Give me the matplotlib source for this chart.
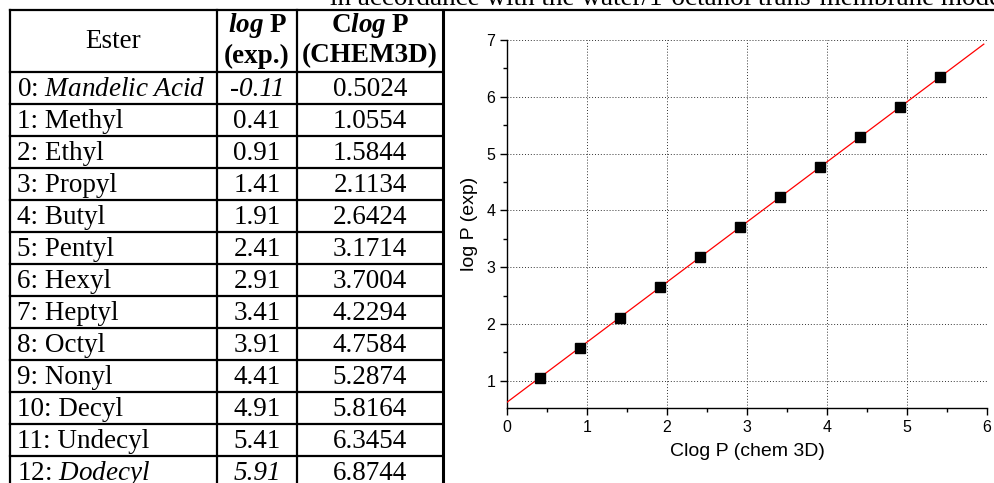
import matplotlib
matplotlib.use("Agg")
import matplotlib.pyplot as plt
from matplotlib.lines import Line2D
from matplotlib.ticker import MultipleLocator
import numpy as np

plt.rcParams['font.family'] = ['Liberation Serif', 'DejaVu Serif']
plt.rcParams['mathtext.fontset'] = 'custom'
plt.rcParams['mathtext.rm'] = 'Liberation Serif'
plt.rcParams['mathtext.it'] = 'Liberation Serif:italic'
plt.rcParams['mathtext.bf'] = 'Liberation Serif:bold'
plt.rcParams['mathtext.bfit'] = 'Liberation Serif:italic:bold'

# table data
esters = [r'0: $\mathit{Mandelic\ Acid}$', '1: Methyl', '2: Ethyl', '3: Propyl',
          '4: Butyl', '5: Pentyl', '6: Hexyl', '7: Heptyl', '8: Octyl',
          '9: Nonyl', '10: Decyl', '11: Undecyl', r'12: $\mathit{Dodecyl}$']
logp_exp = [-0.11, 0.41, 0.91, 1.41, 1.91, 2.41, 2.91, 3.41, 3.91, 4.41, 4.91, 5.41, 5.91]
clogp = [0.5024, 1.0554, 1.5844, 2.1134, 2.6424, 3.1714, 3.7004, 4.2294, 4.7584,
         5.2874, 5.8164, 6.3454, 6.8744]
italic_rows = [0, 12]

W, H = 994, 483
fig = plt.figure(figsize=(W / 100, H / 100), dpi=100)


def fx(x):
    return x / W


def fy(y):
    return 1 - y / H


def hline(y, x0, x1, lw=1.6):
    fig.add_artist(Line2D([fx(x0), fx(x1)], [fy(y), fy(y)], transform=fig.transFigure,
                          color='black', lw=lw, solid_capstyle='projecting'))


def vline(x, y0, y1, lw=1.6):
    fig.add_artist(Line2D([fx(x), fx(x)], [fy(y0), fy(y1)], transform=fig.transFigure,
                          color='black', lw=lw, solid_capstyle='projecting'))


# page text cut at the top
fig.text(fx(330), fy(5), 'in accordance with the water/1-octanol trans-membrane model',
         fontsize=19.5, ha='left', va='baseline')

# table grid
top, head_bot, row_h = 10, 72, 32
col_x = [10, 217, 297, 443]
hline(top, 10, W)
hline(head_bot, 10, 443)
for i in range(len(esters)):
    hline(head_bot + row_h * (i + 1), 10, 443)
for x in col_x[:3]:
    vline(x, top, H)
vline(col_x[3], top, H, lw=2.2)

fs = 19.5
c2 = (col_x[1] + col_x[2]) / 2
c3 = (col_x[2] + col_x[3]) / 2
fig.text(fx((col_x[0] + col_x[1]) / 2), fy((top + head_bot) / 2), 'Ester', fontsize=fs,
         ha='center', va='center')
fig.text(fx(c2), fy(top + 16), r'$\mathbfit{log}\ \mathbf{P}$', fontsize=fs, ha='center', va='center')
fig.text(fx(c2), fy(top + 46), '(exp.)', fontsize=fs, weight='bold', ha='center', va='center')
fig.text(fx(c3), fy(top + 16), r'$\mathbf{C}\mathbfit{log}\ \mathbf{P}$', fontsize=fs, ha='center', va='center')
fig.text(fx(c3), fy(top + 46), '(CHEM3D)', fontsize=fs, weight='bold', ha='center', va='center')

for i, name in enumerate(esters):
    yc = head_bot + row_h * (i + 0.5) + 1
    style = 'italic' if i in italic_rows else 'normal'
    fig.text(fx(17), fy(yc), name, fontsize=fs, ha='left', va='center')
    fig.text(fx(c2), fy(yc), f'{logp_exp[i]:.2f}', fontsize=fs, style=style, ha='center', va='center')
    fig.text(fx(c3), fy(yc), f'{clogp[i]:.4f}', fontsize=fs, ha='center', va='center')

# chart
ax = fig.add_axes([fx(507), fy(408), fx(987) - fx(507), fy(40) - fy(408)])
px = np.array(logp_exp[1:12])
py = np.array(clogp[1:12])
slope, icept = np.polyfit(px, py, 1)
xl = np.array([0, logp_exp[-1] + 0.05])
ax.plot(xl, slope * xl + icept, color='red', lw=0.9, zorder=3)
ax.plot(px, py, 's', color='black', ms=6.5, zorder=4)

ax.set_xlim(0, 6)
ax.set_ylim(0.52, 7)
ax.xaxis.set_major_locator(MultipleLocator(1))
ax.xaxis.set_minor_locator(MultipleLocator(0.5))
ax.yaxis.set_major_locator(MultipleLocator(1))
ax.yaxis.set_minor_locator(MultipleLocator(0.5))
ax.grid(True, which='major', color='#333333', ls=(0, (1, 2)), lw=0.7)
for s in ['top', 'right']:
    ax.spines[s].set_visible(False)
for s in ['left', 'bottom']:
    ax.spines[s].set_linewidth(1.0)
ax.tick_params(which='major', direction='out', length=5, width=1, labelsize=11.5)
ax.tick_params(which='minor', direction='out', length=3, width=1)
for lab in ax.get_xticklabels() + ax.get_yticklabels():
    lab.set_family('Liberation Sans')
ax.set_xlabel('Clog P (chem 3D)', family='Liberation Sans', fontsize=14, labelpad=6)
ax.set_ylabel('log P (exp)', family='Liberation Sans', fontsize=14, labelpad=6)

fig.savefig('out.png', dpi=100)
